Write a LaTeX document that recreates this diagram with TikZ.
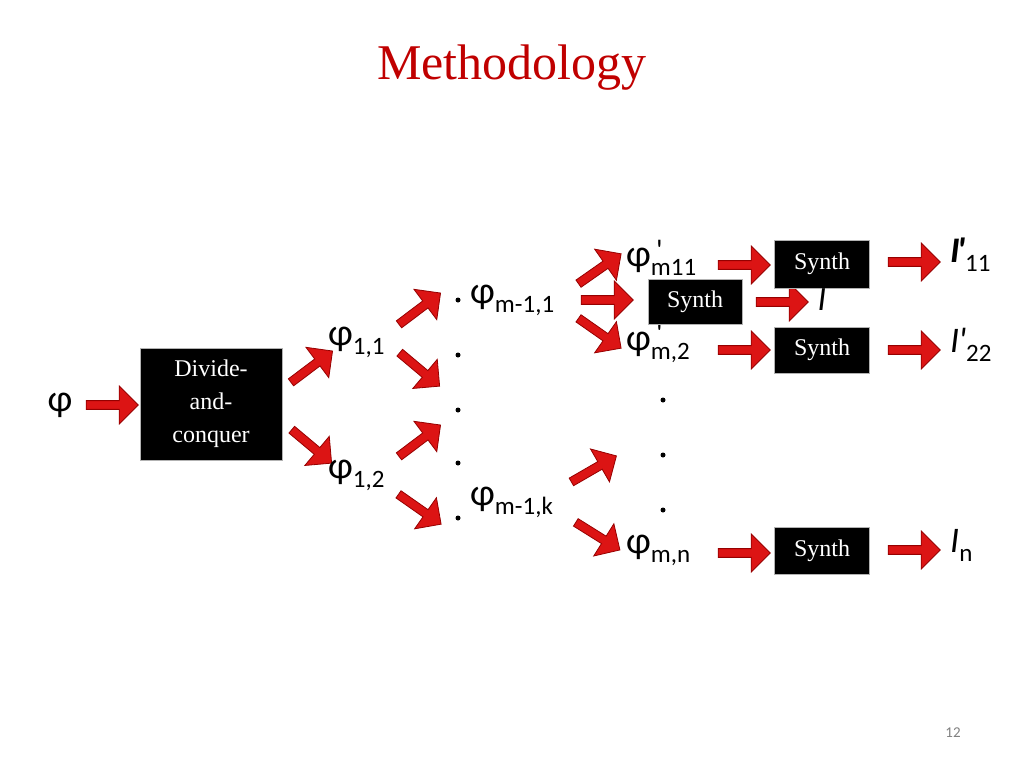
\documentclass[tikz,border=0pt]{standalone}
\usepackage{fontspec}
\setmainfont{Liberation Serif}
\newfontfamily\calfnt{Carlito}
\usetikzlibrary{shapes.arrows}
\definecolor{ttl}{RGB}{192,0,0}
\definecolor{ared}{RGB}{220,20,20}
\definecolor{adark}{RGB}{150,0,0}
\newcommand{\ph}[1]{{\calfnt\fontsize{38}{40}\selectfont φ}{\calfnt\fontsize{25}{26}\selectfont\raisebox{-9pt}{#1}}}
\begin{document}
\begin{tikzpicture}[x=1pt,y=-1pt,
  redarr/.style={single arrow,fill=ared,draw=adark,line width=0.8pt,minimum height=52pt,minimum width=38pt,single arrow head extend=8pt,single arrow head indent=0pt,inner sep=2pt},
  box/.style={fill=black,text=white,draw=gray!60,align=center,font=\fontsize{24}{33}\selectfont},
  lbl/.style={inner sep=0pt,anchor=west},
  dot/.style={circle,fill=black,inner sep=0pt,minimum size=5pt}]
\useasboundingbox (0,0) rectangle (1024,768);
\node[text=ttl,font=\fontsize{50}{56}\selectfont] (title) at (512,68) {Methodology};
\node (phi) at (60,405) {\calfnt\fontsize{38}{40}\selectfont φ};
\node[redarr] (a0) at (110,405) {};
\node[box,minimum width=142pt,minimum height=112pt] (dc) at (211,404) {Divide-\\and-\\conquer};
\node[redarr,rotate=37] (a1) at (310,368) {};
\node[redarr,rotate=-40] (a2) at (310,445) {};
\node[lbl] (p11) at (328,342) {\ph{1,1}};
\node[lbl] (p12) at (328,475) {\ph{1,2}};
\node[redarr,rotate=37] (a3) at (418,310) {};
\node[redarr,rotate=-40] (a4) at (418,368) {};
\node[redarr,rotate=37] (a5) at (418,442) {};
\node[redarr,rotate=-35] (a6) at (418,508) {};
\foreach \y/\n in {300/1,355/2,410/3,463/4,518/5}{\node[dot] (d\n) at (458,\y) {};}
\node[lbl] (pm1) at (470,300) {\ph{m-1,1}};
\node[lbl] (pmk) at (470,502) {\ph{m-1,k}};
\node[redarr,rotate=35] (a7) at (598,270) {};
\node[redarr] (a8) at (605,300) {};
\node[redarr,rotate=-35] (a9) at (598,332) {};
\node[redarr,rotate=30] (a10) at (592,470) {};
\node[redarr,rotate=-32] (a11) at (596,535) {};
\node[lbl] (pm11) at (626,262) {\ph{m11}};
\node[lbl,font=\calfnt\fontsize{30}{30}\selectfont] (q1) at (656,250) {'};
\node[lbl] (pm2) at (626,347) {\ph{m,2}};
\node[lbl,font=\calfnt\fontsize{30}{30}\selectfont] (q2) at (656,333) {'};
\foreach \y/\n in {400/6,455/7,510/8}{\node[dot] (d\n) at (663,\y) {};}
\node[lbl] (pmn) at (626,550) {\ph{m,n}};
\node[redarr] (b1) at (742,265) {};
\node[redarr] (b2) at (742,350) {};
\node[redarr] (b3) at (742,553) {};
\node[redarr] (b4) at (780,302) {};
\node[box,minimum width=95pt,minimum height=48pt] (s1) at (822,264) {Synth};
\node[box,minimum width=95pt,minimum height=46pt] (s2) at (822,350) {Synth};
\node[box,minimum width=95pt,minimum height=47pt] (s3) at (822,551) {Synth};
\node[box,minimum width=94pt,minimum height=45pt] (s4) at (695,302) {Synth};
\node[redarr] (c1) at (912,262) {};
\node[redarr] (c2) at (912,350) {};
\node[redarr] (c3) at (912,550) {};
\node (i0) at (822,300) {\calfnt\fontsize{34}{36}\selectfont\itshape I};
\node[lbl] (i1) at (950,255) {\calfnt\fontsize{36}{36}\selectfont\itshape\bfseries I\kern-3pt'{\upshape\mdseries\fontsize{25}{26}\selectfont\raisebox{-9pt}{11}}};
\node[lbl] (i2) at (950,345) {\calfnt\fontsize{36}{36}\selectfont\itshape I\kern-1pt'{\upshape\fontsize{25}{26}\selectfont\raisebox{-9pt}{22}}};
\node[lbl] (in) at (950,545) {\calfnt\fontsize{36}{36}\selectfont\itshape I{\upshape\fontsize{25}{26}\selectfont\raisebox{-9pt}{n}}};
\node[text=gray,font=\calfnt\fontsize{15}{16}\selectfont] (pg) at (953,733) {12};
\end{tikzpicture}
\end{document}
